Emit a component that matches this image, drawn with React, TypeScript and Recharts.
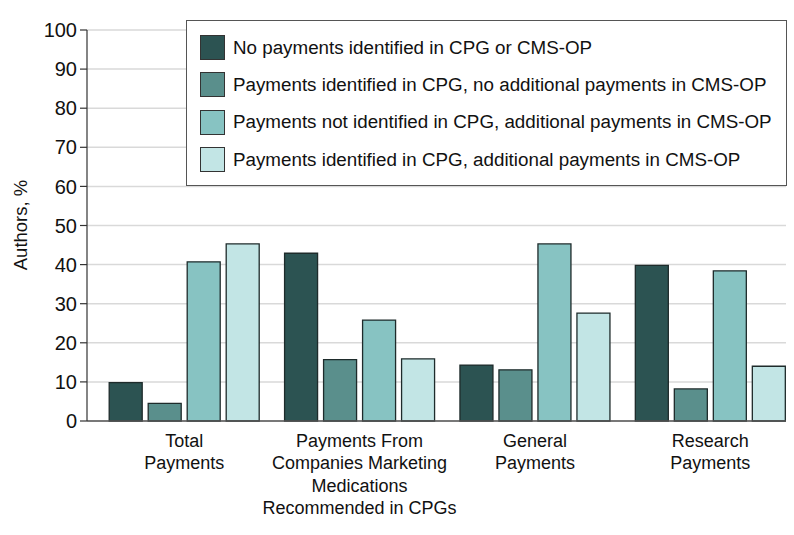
import { BarChart, Bar, XAxis, YAxis, CartesianGrid, Legend, Label } from 'recharts';

const categories = [
  'Total\nPayments',
  'Payments From\nCompanies Marketing\nMedications\nRecommended in CPGs',
  'General\nPayments',
  'Research\nPayments',
];

const seriesNames = [
  'No payments identified in CPG or CMS-OP',
  'Payments identified in CPG, no additional payments in CMS-OP',
  'Payments not identified in CPG, additional payments in CMS-OP',
  'Payments identified in CPG, additional payments in CMS-OP',
];

const noPayments = [9.8, 42.9, 14.3, 39.8];
const cpgOnly = [4.5, 15.7, 13.1, 8.2];
const cmsOnly = [40.7, 25.8, 45.3, 38.4];
const both = [45.3, 15.9, 27.6, 14.0];

const yTicks = [0, 10, 20, 30, 40, 50, 60, 70, 80, 90, 100];

const colors = ['#2c5352', '#5a8f8c', '#87c3c2', '#c2e5e5'];
const FONT = '"Liberation Sans", Arial, sans-serif';

const data = categories.map((c, i) => ({
  category: c,
  s0: noPayments[i],
  s1: cpgOnly[i],
  s2: cmsOnly[i],
  s3: both[i],
}));

function CategoryTick({ x, y, payload }: any) {
  const lines = String(payload.value).split('\n');
  return (
    <text x={x} y={y} textAnchor="middle" fill="#111" fontSize={18} fontFamily={FONT}>
      {lines.map((line, i) => (
        <tspan key={i} x={x} dy={i === 0 ? 17.5 : 22.5}>
          {line}
        </tspan>
      ))}
    </text>
  );
}

// legend drawn from the series arrays so the order stays as in the figure
function LegendBox() {
  return (
    <div
      style={{
        border: '1.5px solid #555',
        background: '#fff',
        boxSizing: 'border-box',
        width: '100%',
        height: '100%',
        padding: '8px 0 0 13px',
        fontFamily: FONT,
        fontSize: 18.8,
        color: '#111',
      }}
    >
      {seriesNames.map((name, i) => (
        <div key={i} style={{ display: 'flex', alignItems: 'center', height: 37.3 }}>
          <span
            style={{
              display: 'inline-block',
              width: 25,
              height: 25,
              background: colors[i],
              border: '1.5px solid #333',
              boxSizing: 'border-box',
              marginRight: 8,
              flex: 'none',
            }}
          />
          <span style={{ whiteSpace: 'nowrap' }}>{name}</span>
        </div>
      ))}
    </div>
  );
}

export default function App() {
  return (
    <div style={{ position: 'absolute', left: 0, top: 0, background: '#fff' }}>
      <BarChart
        width={794}
        height={535}
        data={data}
        margin={{ top: 30, right: 8, left: 0, bottom: 14 }}
        barGap={6}
        barCategoryGap={12.7}
      >
        <CartesianGrid vertical={false} stroke="#d9d9d9" strokeWidth={1.5} />
        <XAxis
          dataKey="category"
          height={100}
          interval={0}
          tickLine={false}
          axisLine={{ stroke: '#555', strokeWidth: 1.5 }}
          tick={<CategoryTick />}
          padding={{ left: 9.5, right: -12 }}
        />
        <YAxis
          width={87}
          domain={[0, 100]}
          ticks={yTicks}
          interval={0}
          tickSize={7}
          tickMargin={3}
          axisLine={{ stroke: '#333', strokeWidth: 1.2 }}
          tickLine={{ stroke: '#333', strokeWidth: 1.2 }}
          tick={{ fill: '#111', fontSize: 20, fontFamily: FONT }}
        >
          <Label
            content={() => (
              <text
                x={20}
                y={225}
                transform="rotate(-90 20 225)"
                textAnchor="middle"
                dominantBaseline="central"
                fill="#111"
                fontSize={18.5}
                fontFamily={FONT}
              >
                Authors, %
              </text>
            )}
          />
        </YAxis>
        <Legend
          layout="horizontal"
          verticalAlign="middle"
          align="center"
          wrapperStyle={{ top: 20, left: 186, width: 601, height: 166 }}
          content={<LegendBox />}
        />
        <Bar dataKey="s0" name={seriesNames[0]} fill={colors[0]} stroke="#1e2b2b" strokeWidth={1.3} isAnimationActive={false} />
        <Bar dataKey="s1" name={seriesNames[1]} fill={colors[1]} stroke="#1e2b2b" strokeWidth={1.3} isAnimationActive={false} />
        <Bar dataKey="s2" name={seriesNames[2]} fill={colors[2]} stroke="#1e2b2b" strokeWidth={1.3} isAnimationActive={false} />
        <Bar dataKey="s3" name={seriesNames[3]} fill={colors[3]} stroke="#1e2b2b" strokeWidth={1.3} isAnimationActive={false} />
      </BarChart>
    </div>
  );
}
